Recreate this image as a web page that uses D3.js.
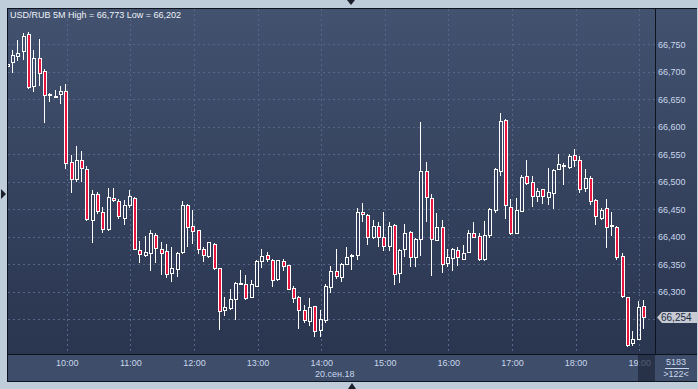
<!DOCTYPE html>
<html>
<head>
<meta charset="utf-8">
<script src="https://cdn.jsdelivr.net/npm/d3@7"></script>
<style>
  html, body { margin: 0; padding: 0; background: #bfccda; }
  svg { display: block; font-family: "Liberation Sans", Arial, sans-serif; }
</style>
</head>
<body>
<div id="chart"></div>
<script>
// 5 minute bars, 20.09.2018, first visible bar 09:05
const startTime = "2018-09-20T09:05";
const openVals = [
  66.711, 66.717, 66.729, 66.737, 66.768, 66.675, 66.726, 66.701, 66.657, 66.656, 66.659, 66.666,
  66.536, 66.505, 66.540, 66.524, 66.431, 66.478, 66.446, 66.414, 66.471, 66.466, 66.434, 66.458,
  66.471, 66.376, 66.367, 66.371, 66.404, 66.378, 66.375, 66.334, 66.341, 66.372, 66.457, 66.420,
  66.413, 66.378, 66.366, 66.387, 66.344, 66.267, 66.270, 66.287, 66.314, 66.315, 66.290, 66.311,
  66.356, 66.367, 66.358, 66.323, 66.356, 66.348, 66.307, 66.290, 66.267, 66.247, 66.274, 66.231,
  66.248, 66.308, 66.338, 66.327, 66.351, 66.366, 66.367, 66.446, 66.440, 66.400, 66.420, 66.400,
  66.384, 66.422, 66.334, 66.378, 66.409, 66.364, 66.396, 66.520, 66.471, 66.395, 66.418, 66.353,
  66.362, 66.376, 66.360, 66.373, 66.407, 66.402, 66.360, 66.404, 66.448, 66.520, 66.613, 66.455,
  66.407, 66.447, 66.511, 66.500, 66.475, 66.486, 66.473, 66.480, 66.524, 66.530, 66.527, 66.548,
  66.539, 66.489, 66.506, 66.467, 66.434, 66.453, 66.421, 66.418, 66.365, 66.290, 66.206, 66.215,
  66.274
];
const highVals = [
  66.717, 66.740, 66.758, 66.771, 66.773, 66.740, 66.760, 66.705, 66.662, 66.667, 66.674, 66.678,
  66.548, 66.565, 66.556, 66.528, 66.485, 66.481, 66.455, 66.489, 66.488, 66.469, 66.467, 66.485,
  66.473, 66.392, 66.401, 66.412, 66.406, 66.390, 66.387, 66.382, 66.372, 66.466, 66.460, 66.449,
  66.413, 66.381, 66.391, 66.388, 66.344, 66.291, 66.306, 66.317, 66.340, 66.330, 66.322, 66.357,
  66.377, 66.373, 66.360, 66.358, 66.359, 66.348, 66.311, 66.292, 66.276, 66.289, 66.275, 66.266,
  66.314, 66.346, 66.377, 66.353, 66.382, 66.368, 66.452, 66.461, 66.441, 66.430, 66.426, 66.446,
  66.427, 66.423, 66.378, 66.424, 66.410, 66.397, 66.608, 66.536, 66.477, 66.444, 66.431, 66.378,
  66.379, 66.381, 66.385, 66.413, 66.427, 66.406, 66.429, 66.452, 66.525, 66.625, 66.614, 66.468,
  66.470, 66.513, 66.540, 66.511, 66.489, 66.486, 66.526, 66.524, 66.550, 66.535, 66.550, 66.560,
  66.546, 66.524, 66.511, 66.469, 66.452, 66.468, 66.446, 66.420, 66.371, 66.291, 66.229, 66.283,
  66.285
];
const lowVals = [
  66.709, 66.700, 66.721, 66.723, 66.671, 66.666, 66.676, 66.609, 66.647, 66.655, 66.644, 66.525,
  66.481, 66.502, 66.502, 66.430, 66.390, 66.443, 66.409, 66.412, 66.465, 66.435, 66.423, 66.454,
  66.377, 66.354, 66.366, 66.339, 66.354, 66.332, 66.327, 66.319, 66.328, 66.371, 66.383, 66.389,
  66.370, 66.356, 66.363, 66.342, 66.232, 66.258, 66.268, 66.251, 66.314, 66.286, 66.290, 66.310,
  66.345, 66.356, 66.311, 66.322, 66.339, 66.305, 66.281, 66.235, 66.245, 66.240, 66.220, 66.220,
  66.246, 66.299, 66.326, 66.319, 66.350, 66.341, 66.360, 66.428, 66.387, 66.398, 66.383, 66.376,
  66.376, 66.314, 66.317, 66.365, 66.347, 66.347, 66.367, 66.429, 66.331, 66.394, 66.336, 66.347,
  66.340, 66.349, 66.359, 66.372, 66.399, 66.358, 66.358, 66.400, 66.445, 66.512, 66.434, 66.405,
  66.407, 66.447, 66.496, 66.456, 66.465, 66.461, 66.460, 66.452, 66.523, 66.496, 66.526, 66.528,
  66.481, 66.483, 66.460, 66.423, 66.433, 66.381, 66.404, 66.360, 66.290, 66.202, 66.203, 66.214,
  66.235
];
const closeVals = [
  66.715, 66.730, 66.734, 66.765, 66.673, 66.726, 66.698, 66.658, 66.659, 66.656, 66.665, 66.535,
  66.505, 66.540, 66.526, 66.432, 66.477, 66.447, 66.415, 66.472, 66.467, 66.437, 66.457, 66.475,
  66.378, 66.369, 66.373, 66.406, 66.380, 66.370, 66.333, 66.344, 66.371, 66.457, 66.418, 66.411,
  66.378, 66.367, 66.390, 66.344, 66.265, 66.273, 66.287, 66.316, 66.316, 66.288, 66.315, 66.356,
  66.366, 66.360, 66.322, 66.357, 66.347, 66.305, 66.289, 66.266, 66.249, 66.273, 66.228, 66.251,
  66.310, 66.338, 66.328, 66.351, 66.364, 66.367, 66.446, 66.441, 66.400, 66.420, 66.400, 66.383,
  66.420, 66.333, 66.376, 66.407, 66.364, 66.396, 66.520, 66.473, 66.396, 66.417, 66.351, 66.364,
  66.378, 66.364, 66.371, 66.406, 66.400, 66.360, 66.404, 66.450, 66.523, 66.611, 66.457, 66.407,
  66.449, 66.509, 66.498, 66.475, 66.484, 66.475, 66.482, 66.522, 66.533, 66.531, 66.546, 66.540,
  66.487, 66.506, 66.466, 66.437, 66.449, 66.418, 66.421, 66.364, 66.293, 66.204, 66.215, 66.272,
  66.254
];

const hourTicks = ["10:00", "11:00", "12:00", "13:00", "14:00", "15:00", "16:00", "17:00", "18:00", "19:00"];
const priceTicks = [66.25, 66.30, 66.35, 66.40, 66.45, 66.50, 66.55, 66.60, 66.65, 66.70, 66.75];
const titleText = "USD/RUB 5M High = 66,773 Low = 66,202";
const dateLabel = "20.сен.18";
const lastPrice = 66.254;
const barCount = "5183";
const visibleBars = ">122<";

const width = 698, height = 389;
const plot = { left: 8, top: 9, right: 655, bottom: 354 };

const parseT = d3.timeParse("%Y-%m-%dT%H:%M");
const t0 = parseT(startTime);
const bars = openVals.map((o, i) => ({
  t: d3.timeMinute.offset(t0, 5 * i),
  o: o, h: highVals[i], l: lowVals[i], c: closeVals[i]
}));
const hourDates = hourTicks.map(s => parseT("2018-09-20T" + s));

const x = d3.scaleTime()
  .domain([hourDates[0], hourDates[hourDates.length - 1]])
  .range([66.7, 639.2]);
const y = d3.scaleLinear()
  .domain([66.25, 66.75])
  .range([319.3, 44.3]);

const ruLocale = d3.formatLocale({ decimal: ",", thousands: " ", grouping: [3], currency: ["", ""] });
const fmt = ruLocale.format(".3f");

const svg = d3.select("#chart").append("svg")
  .attr("width", width)
  .attr("height", height);

const defs = svg.append("defs");
const grad = defs.append("linearGradient")
  .attr("id", "bg")
  .attr("x1", 0).attr("y1", 0).attr("x2", 0).attr("y2", 1);
grad.append("stop").attr("offset", "0%").attr("stop-color", "#42526f");
grad.append("stop").attr("offset", "100%").attr("stop-color", "#2a354f");

defs.append("clipPath").attr("id", "plotclip")
  .append("rect")
  .attr("x", plot.left).attr("y", plot.top)
  .attr("width", plot.right - plot.left).attr("height", plot.bottom - plot.top);

// outer frame
svg.append("rect").attr("width", width).attr("height", height).attr("fill", "#bfccda");
svg.append("rect").attr("x", 7).attr("y", 8).attr("width", 690).attr("height", 374).attr("fill", "#0e1320");
svg.append("rect").attr("x", plot.left).attr("y", plot.top)
  .attr("width", plot.right - plot.left).attr("height", plot.bottom - plot.top)
  .attr("fill", "url(#bg)");
svg.append("rect").attr("x", 656).attr("y", plot.top)
  .attr("width", 41).attr("height", plot.bottom - plot.top)
  .attr("fill", "url(#bg)");
svg.append("rect").attr("x", 8).attr("y", 355).attr("width", 689).attr("height", 26).attr("fill", "#3e4d69");

// small navigation markers
svg.append("path").attr("d", "M347,0 L355,0 L351,5 Z").attr("fill", "#1a1f2a");
svg.append("path").attr("d", "M1,189 L6,194 L1,199 Z").attr("fill", "#1a1f2a");
svg.append("path").attr("d", "M348,389 L356,389 L352,383 Z").attr("fill", "#1a1f2a");

// grid
const grid = svg.append("g").attr("clip-path", "url(#plotclip)")
  .attr("stroke", "#56668a").attr("stroke-width", 1).attr("stroke-dasharray", "2,3");
grid.selectAll(".hg").data(priceTicks).enter().append("line")
  .attr("x1", plot.left).attr("x2", plot.right)
  .attr("y1", d => Math.round(y(d)) + 0.5).attr("y2", d => Math.round(y(d)) + 0.5);
grid.selectAll(".vg").data(hourDates).enter().append("line")
  .attr("y1", plot.top).attr("y2", plot.bottom)
  .attr("x1", d => Math.round(x(d)) + 0.5).attr("x2", d => Math.round(x(d)) + 0.5);

// candles
const candles = svg.append("g").attr("clip-path", "url(#plotclip)");
const candle = candles.selectAll(".candle").data(bars).enter().append("g").attr("class", "candle");
const cx = d => Math.floor(x(d.t));
const bodyTop = d => Math.round(y(Math.max(d.o, d.c)));
const bodyBot = d => Math.max(bodyTop(d) + 1, Math.round(y(Math.min(d.o, d.c))));

candle.append("line")
  .attr("x1", d => cx(d) - 0.5).attr("x2", d => cx(d) - 0.5)
  .attr("y1", d => Math.round(y(d.h))).attr("y2", d => bodyTop(d))
  .attr("stroke", "#ffffff").attr("stroke-width", 1);
candle.append("line")
  .attr("x1", d => cx(d) - 0.5).attr("x2", d => cx(d) - 0.5)
  .attr("y1", d => bodyBot(d)).attr("y2", d => Math.round(y(d.l)) + 1)
  .attr("stroke", "#ffffff").attr("stroke-width", 1);
candle.append("rect")
  .attr("x", d => cx(d) - 1.5)
  .attr("width", 3)
  .attr("y", d => bodyTop(d) + 0.5)
  .attr("height", d => bodyBot(d) - bodyTop(d))
  .attr("fill", d => d.c >= d.o ? "none" : "#e8163f")
  .attr("stroke", "#ffffff").attr("stroke-width", 1);

// title
svg.append("text")
  .attr("x", 10).attr("y", 18)
  .attr("fill", "#eef2f7").attr("font-size", "9px")
  .text(titleText);

// right price axis (the lowest label sits under the last-price marker, so it is not drawn)
const yAxis = svg.append("g")
  .attr("transform", "translate(657,0)")
  .call(d3.axisRight(y).tickValues(priceTicks.slice(1)).tickSize(0).tickPadding(1).tickFormat(fmt));
yAxis.select(".domain").remove();
yAxis.selectAll("text").attr("fill", "#c9d7ec").attr("font-size", "9px")
  .attr("font-family", "Liberation Sans, Arial, sans-serif");

// bottom time axis
const xAxis = svg.append("g")
  .attr("transform", `translate(0,${plot.bottom})`)
  .call(d3.axisBottom(x).tickValues(hourDates).tickSize(0).tickPadding(6).tickFormat(d3.timeFormat("%H:%M")));
xAxis.select(".domain").remove();
xAxis.selectAll("text").attr("fill", "#c9d7ec").attr("font-size", "9px")
  .attr("font-family", "Liberation Sans, Arial, sans-serif");

svg.append("text")
  .attr("x", 315).attr("y", 377)
  .attr("fill", "#c9d7ec").attr("font-size", "9px")
  .text(dateLabel);

// dark cursor band over the last hour label
svg.append("rect")
  .attr("x", 638).attr("y", 355).attr("width", 17).attr("height", 26)
  .attr("fill", "#1e273b").attr("opacity", 0.7);

// bar counter cell
svg.append("text")
  .attr("x", 676).attr("y", 365).attr("text-anchor", "middle")
  .attr("fill", "#c9d7ec").attr("font-size", "9px")
  .text(barCount);
svg.append("line")
  .attr("x1", 665).attr("x2", 689).attr("y1", 368.5).attr("y2", 368.5)
  .attr("stroke", "#c9d7ec").attr("stroke-width", 1);
svg.append("text")
  .attr("x", 676).attr("y", 377).attr("text-anchor", "middle")
  .attr("fill", "#c9d7ec").attr("font-size", "9px")
  .text(visibleBars);

// last price marker
const py = Math.round(y(lastPrice)) + 0.5;
svg.append("path")
  .attr("d", `M657,${py} L662,${py - 5.5} L697,${py - 5.5} L697,${py + 5.5} L662,${py + 5.5} Z`)
  .attr("fill", "#c6cbd3");
svg.append("text")
  .attr("x", 661).attr("y", py + 3.8)
  .attr("fill", "#1b2842").attr("font-size", "10px")
  .text(fmt(lastPrice));
</script>
</body>
</html>
